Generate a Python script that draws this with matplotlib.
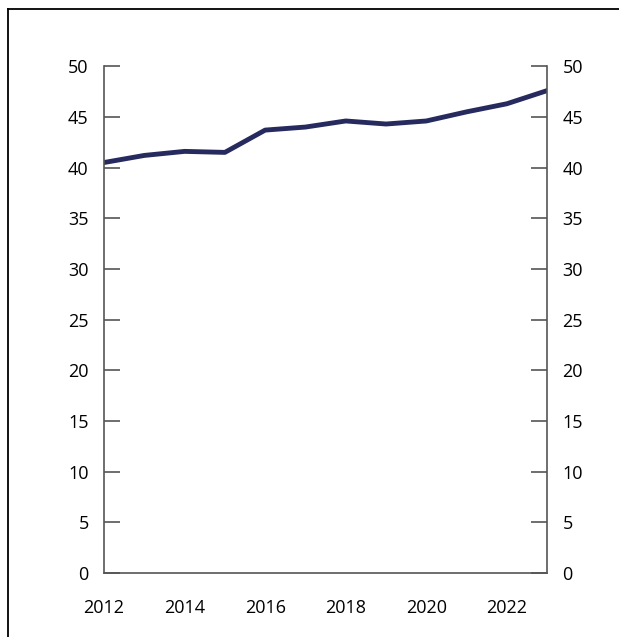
import matplotlib
matplotlib.use("Agg")
import matplotlib.pyplot as plt
from matplotlib.lines import Line2D

years = [2012, 2013, 2014, 2015, 2016, 2017, 2018, 2019, 2020, 2021, 2022, 2023]
values = [40.5, 41.2, 41.6, 41.5, 43.7, 44.0, 44.6, 44.3, 44.6, 45.5, 46.3, 47.6]
xticks = [2012, 2014, 2016, 2018, 2020, 2022]
yticks = [0, 5, 10, 15, 20, 25, 30, 35, 40, 45, 50]

plt.rcParams['font.family'] = ['Open Sans', 'DejaVu Sans']

fig = plt.figure(figsize=(6.19, 6.37), dpi=100)
ax = fig.add_axes([0.168, 0.1005, 0.716, 0.7955])

ax.plot(years, values, color='#262a5e', lw=3.5, solid_capstyle='round', solid_joinstyle='round')

ax.set_xlim(2012, 2023)
ax.set_ylim(0, 50)
ax.set_xticks(xticks)
ax.set_yticks(yticks)

spine_col = '#555555'
for s in ['left', 'right', 'bottom']:
    ax.spines[s].set_color(spine_col)
    ax.spines[s].set_linewidth(1.2)
ax.spines['top'].set_visible(False)

ax.tick_params(axis='y', direction='in', length=11.5, width=1.2, color=spine_col,
               labelsize=13, pad=11, left=True, right=True, labelleft=True, labelright=True)
ax.tick_params(axis='x', length=0, labelsize=13, pad=19)

# frame around the figure (left and top only)
fig.add_artist(Line2D([0.013, 0.013], [0, 0.986], color='black', lw=1.3, transform=fig.transFigure))
fig.add_artist(Line2D([0.013, 1.0], [0.986, 0.986], color='black', lw=1.3, transform=fig.transFigure))

fig.savefig('out.png', dpi=100)
